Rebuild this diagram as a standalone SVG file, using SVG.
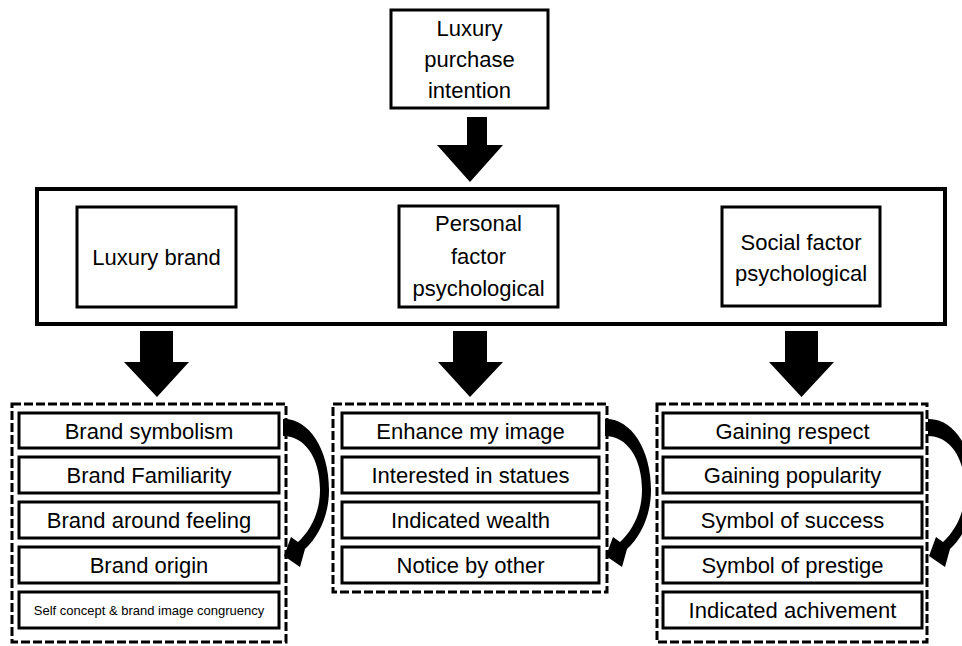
<svg xmlns="http://www.w3.org/2000/svg" xmlns:xlink="http://www.w3.org/1999/xlink" width="962" height="646" viewBox="0 0 962 646">
<style>
  .box { fill: #fff; stroke: #000; stroke-width: 3; }
  .big { fill: #fff; stroke: #000; stroke-width: 4; }
  .dash { fill: none; stroke: #000; stroke-width: 3; stroke-dasharray: 9 3; }
  .t { font-family: "Liberation Sans", Arial, sans-serif; font-size: 22px; fill: #000; text-anchor: middle; }
  .s { font-family: "Liberation Sans", Arial, sans-serif; font-size: 13px; fill: #000; text-anchor: middle; }
  .arr { fill: #000; }
</style>
<defs>
  <path id="curve" d="M 283,419 C 308,418 329,448 329,490 C 329,515 319,536 305,549 L 300,567 L 284,556 L 291,537 L 298,542 C 311,530 320,512 320,490 C 320,458 305,436 283,436 Z"/>
</defs>
<rect width="962" height="646" fill="#fff"/>

<g id="intention">
  <rect class="box" x="391" y="10" width="157" height="98"/>
  <text class="t" x="469.5" y="36">Luxury</text>
  <text class="t" x="469.5" y="67">purchase</text>
  <text class="t" x="469.5" y="98">intention</text>
</g>

<g id="factors">
  <rect class="big" x="37" y="189" width="908" height="135"/>
</g>

<g id="luxury-brand">
  <rect class="box" x="77" y="207" width="159" height="100"/>
  <text class="t" x="156.5" y="265">Luxury brand</text>
</g>
<g id="personal">
  <rect class="box" x="399" y="206" width="159" height="101"/>
  <text class="t" x="478.5" y="231">Personal</text>
  <text class="t" x="478.5" y="264">factor</text>
  <text class="t" x="478.5" y="296">psychological</text>
</g>
<g id="social">
  <rect class="box" x="722" y="207" width="158" height="99"/>
  <text class="t" x="801" y="250">Social factor</text>
  <text class="t" x="801" y="281">psychological</text>
</g>

<g id="brand-group">
  <rect class="dash" x="12" y="404" width="274" height="238"/>
  <g id="brand-symbolism"><rect class="box" x="19" y="413" width="260" height="35"/><text class="t" x="149" y="439">Brand symbolism</text></g>
  <g id="brand-familiarity"><rect class="box" x="19" y="457" width="260" height="36"/><text class="t" x="149" y="483">Brand Familiarity</text></g>
  <g id="brand-feeling"><rect class="box" x="19" y="502" width="260" height="36"/><text class="t" x="149" y="528">Brand around feeling</text></g>
  <g id="brand-origin"><rect class="box" x="19" y="547" width="260" height="36"/><text class="t" x="149" y="573">Brand origin</text></g>
  <g id="self-concept"><rect class="box" x="19" y="592" width="260" height="36"/><text class="s" x="149" y="615">Self concept &amp; brand image congruency</text></g>
</g>

<g id="personal-group">
  <rect class="dash" x="333" y="404" width="274" height="188"/>
  <g id="enhance"><rect class="box" x="342" y="413" width="257" height="35"/><text class="t" x="470.5" y="439">Enhance my image</text></g>
  <g id="statues"><rect class="box" x="342" y="457" width="257" height="36"/><text class="t" x="470.5" y="483">Interested in statues</text></g>
  <g id="wealth"><rect class="box" x="342" y="502" width="257" height="36"/><text class="t" x="470.5" y="528">Indicated wealth</text></g>
  <g id="notice"><rect class="box" x="342" y="547" width="257" height="36"/><text class="t" x="470.5" y="573">Notice by other</text></g>
</g>

<g id="social-group">
  <rect class="dash" x="657" y="404" width="270" height="238"/>
  <g id="respect"><rect class="box" x="663" y="413" width="259" height="35"/><text class="t" x="792.5" y="439">Gaining respect</text></g>
  <g id="popularity"><rect class="box" x="663" y="457" width="259" height="36"/><text class="t" x="792.5" y="483">Gaining popularity</text></g>
  <g id="success"><rect class="box" x="663" y="502" width="259" height="36"/><text class="t" x="792.5" y="528">Symbol of success</text></g>
  <g id="prestige"><rect class="box" x="663" y="547" width="259" height="36"/><text class="t" x="792.5" y="573">Symbol of prestige</text></g>
  <g id="achivement"><rect class="box" x="663" y="592" width="259" height="36"/><text class="t" x="792.5" y="618">Indicated achivement</text></g>
</g>

<g id="connectors">
  <polygon class="arr" points="467,117 487,117 487,145 503,145 470,182 437,145 467,145"/>
  <polygon class="arr" points="140,331 173,331 173,362 189,362 157,397 124,362 140,362"/>
  <polygon class="arr" points="453,331 487,331 487,362 503,362 470,397 438,362 453,362"/>
  <polygon class="arr" points="785,331 818,331 818,362 834,362 801.5,397 769,362 785,362"/>
  <use xlink:href="#curve"/>
  <use xlink:href="#curve" transform="translate(322,0)"/>
  <use xlink:href="#curve" transform="translate(645,0)"/>
</g>
</svg>
